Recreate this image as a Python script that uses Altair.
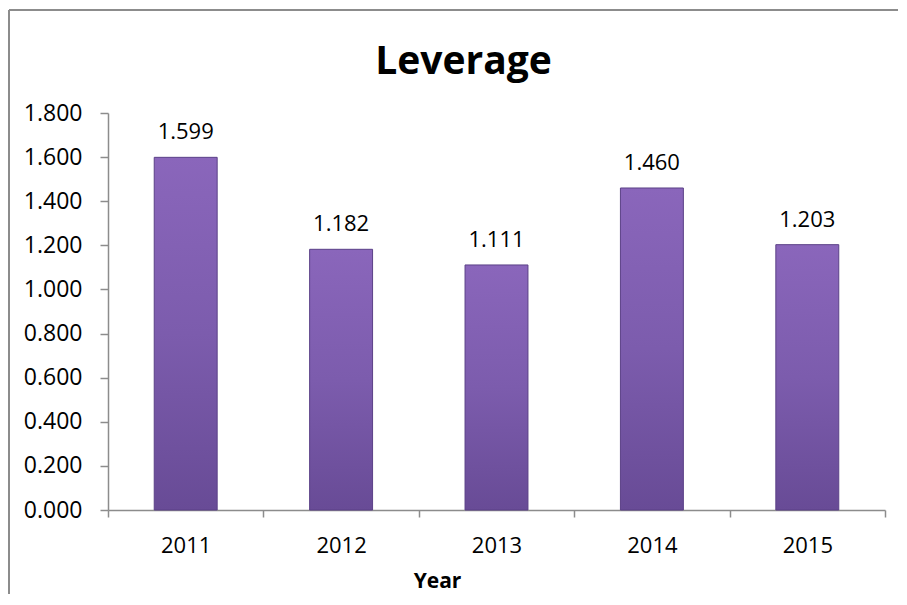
import altair as alt
import pandas as pd

years = ["2011", "2012", "2013", "2014", "2015"]
leverage = [1.599, 1.182, 1.111, 1.460, 1.203]
y_ticks = [0.0, 0.2, 0.4, 0.6, 0.8, 1.0, 1.2, 1.4, 1.6, 1.8]

df = pd.DataFrame({"Year": years, "Leverage": leverage})
frame_df = pd.DataFrame({"k": [0]})

FONT = "Open Sans"
AXIS_GRAY = "#8c8c8c"

base = alt.Chart(df)

bars = base.mark_bar(
    width=alt.RelativeBandSize(0.405),
    color=alt.Gradient(
        gradient="linear",
        stops=[
            alt.GradientStop(color="#8a66bb", offset=0),
            alt.GradientStop(color="#7c5cad", offset=0.5),
            alt.GradientStop(color="#684b96", offset=1),
        ],
        x1=0, x2=0, y1=0, y2=1,
    ),
    stroke="#5b4087",
    strokeWidth=1,
).encode(
    x=alt.X(
        "Year:N",
        sort=years,
        scale=alt.Scale(paddingInner=0, paddingOuter=0),
        axis=alt.Axis(
            title="Year",
            titleFont=FONT,
            titleFontSize=21,
            titleFontWeight="bold",
            titleColor="black",
            titleX=329,
            titleY=77,
            titleAlign="center",
            titleBaseline="alphabetic",
            labelFont=FONT,
            labelFontSize=22,
            labelColor="black",
            labelAngle=0,
            labelBaseline="alphabetic",
            labelPadding=35,
            tickBand="extent",
            tickSize=7,
            tickColor=AXIS_GRAY,
            tickWidth=1.5,
            domainColor=AXIS_GRAY,
            domainWidth=1.5,
            grid=False,
        ),
    ),
    y=alt.Y(
        "Leverage:Q",
        scale=alt.Scale(domain=[0, 1.8], nice=False),
        axis=alt.Axis(
            title=None,
            values=y_ticks,
            format=".3f",
            labelFont=FONT,
            labelFontSize=23,
            labelColor="black",
            labelPadding=18,
            tickSize=8,
            tickColor=AXIS_GRAY,
            tickWidth=1.5,
            domainColor=AXIS_GRAY,
            domainWidth=1.5,
            grid=False,
        ),
    ),
)

labels = base.mark_text(
    font=FONT, fontSize=22, color="black", baseline="alphabetic", dy=-18
).encode(
    x=alt.X("Year:N", sort=years),
    y="Leverage:Q",
    text=alt.Text("Leverage:Q", format=".3f"),
)

left_border = alt.Chart(frame_df).mark_rule(color="#8c8c8c", strokeWidth=2).encode(
    x=alt.value(-99), y=alt.value(-103), y2=alt.value(490)
)
top_border = alt.Chart(frame_df).mark_rule(color="#8c8c8c", strokeWidth=2).encode(
    x=alt.value(-99), x2=alt.value(790), y=alt.value(-103)
)

chart = alt.layer(left_border, top_border, bars, labels).properties(
    width=777,
    height=397,
    padding={"left": 100, "top": 105, "right": 14, "bottom": 84},
    autosize=alt.AutoSizeParams(type="none"),
    background="white",
    view=alt.ViewBackground(stroke="transparent", strokeWidth=0, fill="white"),
    title=alt.TitleParams(
        "Leverage",
        font=FONT,
        fontSize=39,
        fontWeight="bold",
        color="black",
        anchor="middle",
        baseline="alphabetic",
        dx=-33,
        dy=104,
        offset=0,
    ),
).configure_view(strokeWidth=0, stroke="transparent")

chart.save("out.html", embed_options={"renderer": "svg", "actions": False})
